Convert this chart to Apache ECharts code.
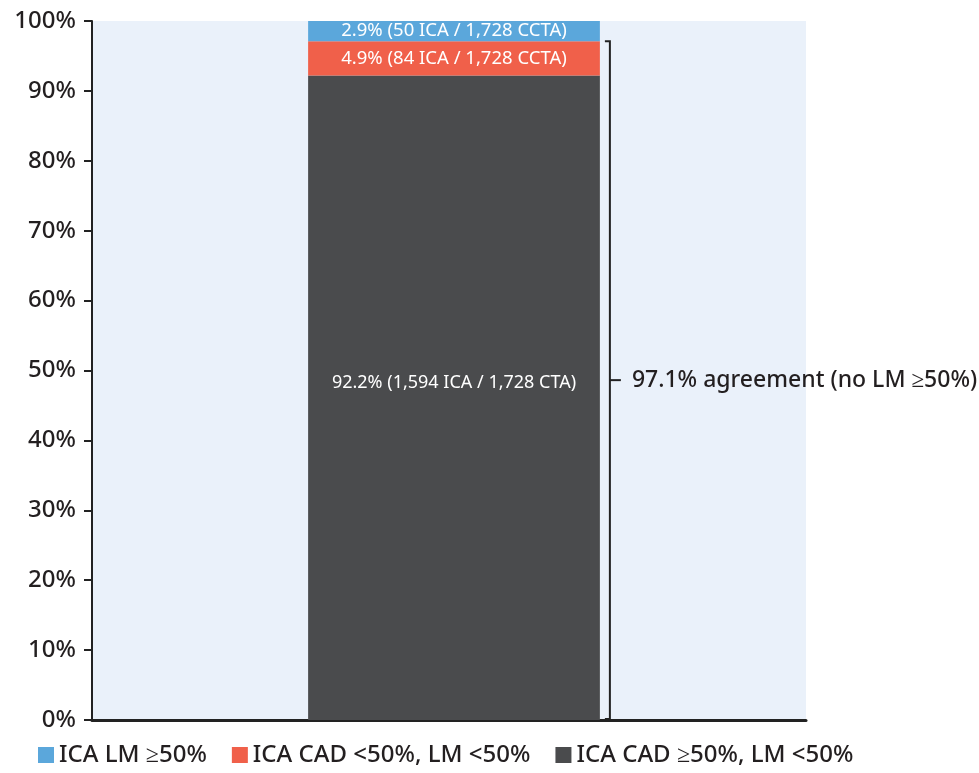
<!DOCTYPE html>
<html><head><meta charset="utf-8">
<script src="https://cdn.jsdelivr.net/npm/echarts@6/dist/echarts.min.js"></script>
<style>html,body{margin:0;padding:0;background:#fff}#c{width:979px;height:773px}</style>
</head><body><div id="c"></div>
<script>
var categories = ['ICA'];
var seriesNames = ['ICA CAD \u226550%, LM <50%', 'ICA CAD <50%, LM <50%', 'ICA LM \u226550%'];
var darkValues = [92.2];
var redValues = [4.9];
var blueValues = [2.9];
var segmentLabels = ['92.2% (1,594 ICA / 1,728 CTA)', '4.9% (84 ICA / 1,728 CCTA)', '2.9% (50 ICA / 1,728 CCTA)'];
var agreementValue = [97.1];
var agreementLabel = '97.1% agreement (no LM \u226550%)';
var legendOrder = ['ICA LM \u226550%', 'ICA CAD <50%, LM <50%', 'ICA CAD \u226550%, LM <50%'];

var FONT = 'Noto Sans';
var TXT = '#231f20';
var BAR_W = 0.403;
var colors = {dark:'#4a4b4d', red:'#f0604a', blue:'#5ba7db'};

var chart = echarts.init(document.getElementById('c'), null, {renderer:'canvas'});

function barSeries(name, data, color, label, fs, offset) {
  return {
    name: name, type: 'bar', stack: 'total', data: data, barWidth: (BAR_W * 100) + '%',
    xAxisIndex: 0, yAxisIndex: 0,
    itemStyle: {color: color},
    label: {show: true, position: 'inside', formatter: function(){return label;},
      color: '#fff', fontFamily: FONT, fontSize: fs, offset: offset || [0, 0]},
    emphasis: {disabled: true}
  };
}

var option = {
  animation: false,
  textStyle: {fontFamily: FONT},
  grid: [
    {left: 92, right: 163, top: 21, bottom: 53, show: false},
    {left: 92, right: 173, top: 21, bottom: 53, show: true, backgroundColor: '#eaf1fa', borderWidth: 0, z: -1}
  ],
  legend: {
    data: legendOrder, bottom: 1, left: 33, itemWidth: 16, itemHeight: 16, itemGap: 25,
    icon: 'rect',
    textStyle: {fontFamily: FONT, fontSize: 24, color: TXT, fontWeight: 500}
  },
  xAxis: [
    {type: 'category', data: categories, gridIndex: 0,
     axisLine: {show: false}, axisTick: {show: false}, axisLabel: {show: false}},
    {type: 'category', data: categories, gridIndex: 1,
     axisLine: {show: true, lineStyle: {color: '#222', width: 3}},
     axisTick: {show: false}, axisLabel: {show: false}}
  ],
  yAxis: [
    {type: 'value', min: 0, max: 100, interval: 10, gridIndex: 0, z: 3,
     axisLine: {show: true, lineStyle: {color: '#222', width: 2}},
     axisTick: {show: true, length: 8, lineStyle: {color: '#222', width: 2}},
     axisLabel: {formatter: '{value}%', fontFamily: FONT, fontSize: 24, color: TXT, fontWeight: 500, margin: 16},
     splitLine: {show: false}},
    {type: 'value', min: 0, max: 100, gridIndex: 1, show: false}
  ],
  series: [
    barSeries(seriesNames[0], darkValues, colors.dark, segmentLabels[0], 18, [0, -15]),
    barSeries(seriesNames[1], redValues, colors.red, segmentLabels[1], 18.5),
    barSeries(seriesNames[2], blueValues, colors.blue, segmentLabels[2], 18.5),
    {
      type: 'custom', name: 'bracket', data: agreementValue.map(function(v,i){return [i, v];}),
      xAxisIndex: 0, yAxisIndex: 0, z: 5, silent: true,
      renderItem: function(params, api) {
        var top = api.coord([api.value(0), api.value(1)]);
        var bot = api.coord([api.value(0), 0]);
        var band = api.size([1, 0])[0];
        var x = top[0] + band * BAR_W / 2 + 10;
        var yt = top[1], yb = bot[1] - 1;
        var ym = (yt + yb) / 2;
        var ls = {stroke: '#222', lineWidth: 2, fill: null};
        return {type: 'group', children: [
          {type: 'polyline', shape: {points: [[x-5, yt], [x, yt], [x, yb], [x-5, yb]]}, style: ls},
          {type: 'line', shape: {x1: x, y1: ym, x2: x + 11, y2: ym}, style: ls},
          {type: 'text', x: x + 22, y: ym, style: {text: agreementLabel, fill: TXT, fontFamily: FONT, fontSize: 23, fontWeight: 500, verticalAlign: 'middle', align: 'left'}}
        ]};
      }
    }
  ]
};
chart.setOption(option);
</script>
</body></html>
